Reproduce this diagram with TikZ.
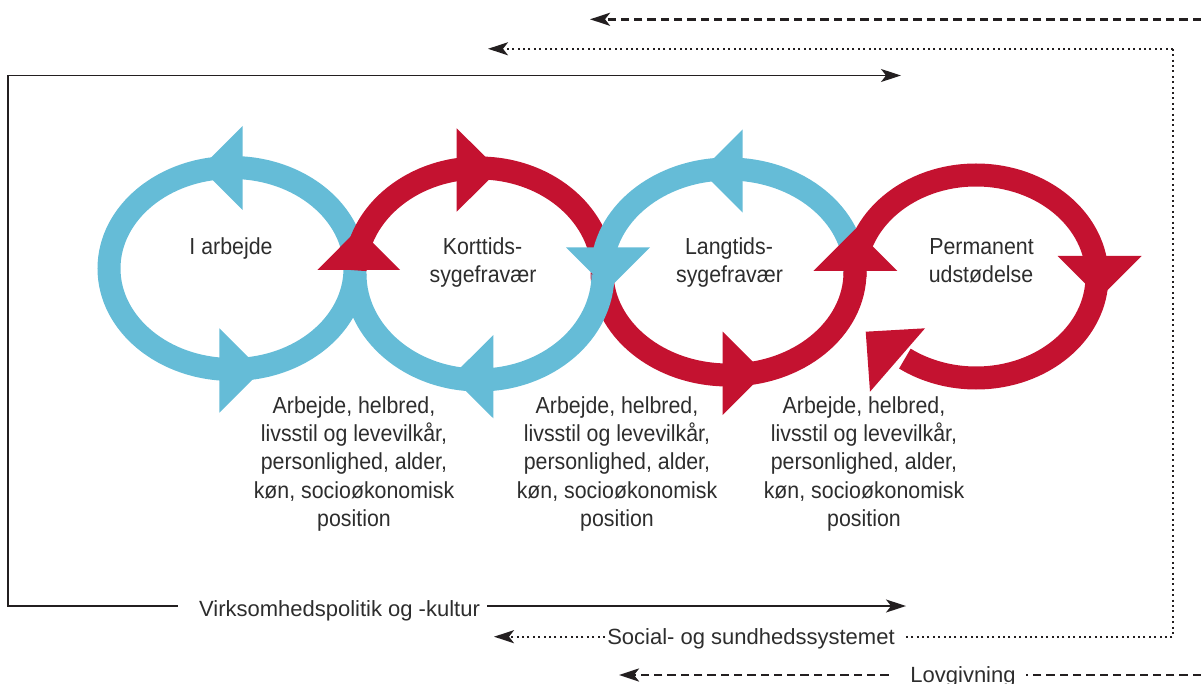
\documentclass[tikz,border=0pt]{standalone}
\usepackage{fontspec}
\setmainfont{Liberation Sans}
\newfontfamily\lblfont[FakeStretch=0.92]{Liberation Sans}
\newfontfamily\axfont{Liberation Sans}
\usetikzlibrary{arrows.meta}
\definecolor{cblue}{RGB}{101,188,215}
\definecolor{cred}{RGB}{196,18,48}
\definecolor{ink}{RGB}{35,31,32}
\definecolor{txt}{RGB}{45,45,45}
\begin{document}
\begin{tikzpicture}[x=1pt,y=-1pt,
  ring/.style={line width=23pt},
  lbl/.style={font=\lblfont\fontsize{23.2}{28}\selectfont,text=txt,inner sep=0pt,anchor=base},
  axlbl/.style={font=\axfont\fontsize{22}{26}\selectfont,text=txt,inner sep=0pt,anchor=base},
  tip/.style={-{Stealth[length=20pt,width=13pt,inset=5pt]}},
  solidln/.style={draw=ink,line width=1.4pt},
  dotln/.style={draw=ink,line width=2pt,dash pattern=on 2pt off 3.4pt},
  dashln/.style={draw=ink,line width=2.8pt,dash pattern=on 8.3pt off 5pt}]
\useasboundingbox (0,0) rectangle (1201,684);

% ---------------- loops (pixel coordinates, y downwards) ----------------
% C3 lower half (red)
\draw[ring,cred] ({728.5+126.5*cos(0)},{272+103*sin(0)}) arc[start angle=0,end angle=180,x radius=126.5,y radius=103];
% C2 lower half (blue)
\draw[ring,cblue] ({479+124*cos(0)},{274+106*sin(0)}) arc[start angle=0,end angle=180,x radius=124,y radius=106];
% C1 full (blue)
\draw[ring,cblue] (232,268.5) ellipse[x radius=123,y radius=101];
% C2 upper half (red)
\draw[ring,cred] ({479+124*cos(182)},{274+106*sin(182)}) arc[start angle=182,end angle=360,x radius=124,y radius=106];
% C3 upper half (blue)
\draw[ring,cblue] ({728.5+126.5*cos(180)},{272+103*sin(180)}) arc[start angle=180,end angle=360,x radius=126.5,y radius=103];
% C4 (red, open at lower left)
\draw[ring,cred] ({976+121*cos(180)},{276.5+101.5*sin(180)}) arc[start angle=180,end angle=486,x radius=121,y radius=101.5];

% ---------------- arrowheads ----------------
\fill[cblue] (242.7,126) -- (242.7,210) -- (200.7,168) -- cycle;
\fill[cblue] (219.3,328.3) -- (219.3,412.7) -- (261.5,370.5) -- cycle;
\fill[cred] (456.7,128.3) -- (456.7,211.7) -- (498.7,170) -- cycle;
\fill[cred] (317.3,270) -- (400,270) -- (358.7,228.5) -- cycle;
\fill[cblue] (493.3,335) -- (493.3,418.3) -- (451.5,376.7) -- cycle;
\fill[cblue] (566,247.3) -- (650,247.3) -- (608,289.3) -- cycle;
\fill[cblue] (742.7,129.3) -- (742.7,212.7) -- (701,171) -- cycle;
\fill[cred] (722.7,331.7) -- (722.7,415) -- (764.3,373.3) -- cycle;
\fill[cred] (813.3,271) -- (897.3,271) -- (855.3,229) -- cycle;
\fill[cred] (1057.7,256) -- (1141.7,256) -- (1099.7,298) -- cycle;
\fill[cred] (865.7,331.7) -- (925,328.3) -- (870,391.7) -- cycle;

% ---------------- loop labels ----------------
\node[lbl] (t1) at (231,254.3) {I arbejde};
\node[lbl] (t2a) at (482.5,254.3) {Korttids-};
\node[lbl] (t2b) at (483,282.6) {sygefravær};
\node[lbl] (t3a) at (729,254.3) {Langtids-};
\node[lbl] (t3b) at (729.5,282.6) {sygefravær};
\node[lbl] (t4a) at (981.5,254.3) {Permanent};
\node[lbl] (t4b) at (981,282.6) {udstødelse};

\foreach \cx/\k in {354/1,617/2,864/3}{
  \foreach \ln [count=\j] in {{Arbejde, helbred,},{livsstil og levevilkår,},{personlighed, alder,},{køn, socioøkonomisk},{position}}{
    \node[lbl] (f\k-\j) at (\cx,{413.3+28.3*(\j-1)}) {\ln};
  }
}

% ---------------- frame lines ----------------
\coordinate (solidTL) at (8,75.5);
\coordinate (solidTR) at (901,75.5);
\coordinate (solidBL) at (8,606);
\coordinate (virkL) at (178,606);
\coordinate (virkR) at (487,606);
\coordinate (solidBR) at (906,606);
\node[axlbl] (virk) at (339.5,616) {Virksomhedspolitik og -kultur};

\coordinate (dotTR) at (1173,48.8);
\coordinate (dotTL) at (488,48.8);
\coordinate (dotBR) at (1173,636.7);
\coordinate (socR) at (904,636.7);
\coordinate (socL) at (605,636.7);
\coordinate (dotBL) at (494,636.7);
\node[axlbl] (soc) at (751,644) {Social- og sundhedssystemet};

\coordinate (dashTR) at (1201,19.3);
\coordinate (dashTL) at (590,19.3);
\coordinate (dashBR) at (1201,675);
\coordinate (lovR) at (1026,675);
\coordinate (lovL) at (888.5,675);
\coordinate (dashBL) at (619,675);
\node[axlbl] (lov) at (963,682.5) {Lovgivning};

\draw[solidln,tip] (solidTL) -- (solidTR);
\draw[solidln] (solidTL) -- (solidBL) -- (virkL);
\draw[solidln,tip] (virkR) -- (solidBR);

\draw[dotln,tip] (dotTR) -- (dotTL);
\draw[dotln] (dotTR) -- (dotBR) -- (socR);
\draw[dotln,tip] (socL) -- (dotBL);

\draw[dashln,tip] (dashTR) -- (dashTL);
\draw[dashln] (dashBR) -- (lovR);
\draw[dashln,tip] (lovL) -- (dashBL);
\end{tikzpicture}
\end{document}
